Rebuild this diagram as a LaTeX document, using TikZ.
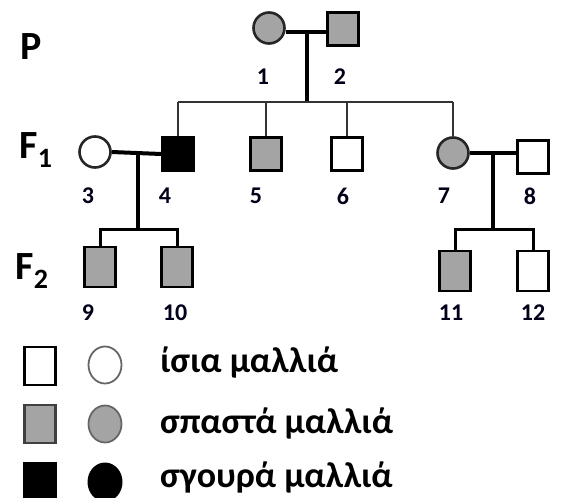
\documentclass[tikz,border=0pt]{standalone}
\usepackage{fontspec}
\usetikzlibrary{shapes.geometric}
\setmainfont{Carlito}
\definecolor{aff}{HTML}{A4A4A4}
\begin{document}
\begin{tikzpicture}[x=1pt,y=-1pt,
  ind/.style={draw=black, line width=2.6pt, inner sep=0pt},
  sqw/.style={ind, rectangle, fill=white, minimum width=31pt, minimum height=33pt},
  sqg/.style={sqw, fill=aff},
  sqb/.style={sqw, fill=black},
  crw/.style={ind, circle, fill=white, draw=black!85, minimum size=31pt},
  crg/.style={crw, fill=aff},
  crb/.style={crw, fill=black},
  num/.style={font=\bfseries\fontsize{24}{28}\selectfont, text=black!90!blue},
  gen/.style={font=\bfseries\fontsize{40}{44}\selectfont},
  leg/.style={font=\bfseries\fontsize{36}{40}\selectfont, anchor=west, inner sep=0pt},
  marr/.style={line width=4pt},
  sib/.style={line width=2.6pt, draw=black!80},
  drop/.style={line width=1.8pt, draw=black!80}
]
\useasboundingbox[fill=white] (0,0) rectangle (561,497);

% generation labels
\node[gen] (P) at (31,47) {P};
\node[gen] (F1) at (36,150) {F\textsubscript{1}};
\node[gen] (F2) at (32,271) {F\textsubscript{2}};

% P generation
\node[crg] (i1) at (269,28) {};
\node[sqg] (i2) at (343,29) {};
\coordinate (e1) at (286,32);
\coordinate (w2) at (327,32);
\draw[marr] (e1) -- (w2);
\coordinate (m12) at (307,32);
\coordinate (s12) at (307,102);
\draw[marr] (m12) -- (s12);

% F1
\node[crw] (i3) at (95,152) {};
\node[sqb] (i4) at (178,154) {};
\node[sqg] (i5) at (266,154) {};
\node[sqw] (i6) at (347,154) {};
\node[crg] (i7) at (453,153) {};
\node[sqw] (i8) at (533,157) {};

\coordinate (a4) at (178,102);
\coordinate (a7) at (453,102);
\draw[sib] (a4) -- (a7);
\draw[drop] (a4) -- (i4.north);
\draw[drop] (266,102) -- (i5.north);
\draw[drop] (347,102) -- (i6.north);
\draw[drop] (a7) -- (i7.north);

\draw[marr] (i3.east) -- (i4.west);
\coordinate (m34) at (138,152);
\coordinate (s34) at (138,230);
\draw[marr] (m34) -- (s34);

\draw[marr] (i7.east) -- (i8.west |- i7.east);
\coordinate (m78) at (493,153);
\coordinate (s78) at (493,230);
\draw[marr] (m78) -- (s78);

% F2
\node[sqg, minimum height=40pt] (i9) at (100,267) {};
\node[sqg, minimum height=40pt] (i10) at (177,267) {};
\node[sqg, minimum height=40pt] (i11) at (455,271) {};
\node[sqw, minimum height=40pt] (i12) at (533,271) {};

\coordinate (b9) at (100,229);
\coordinate (b10) at (177,229);
\draw[line width=3pt] (i9.north) -- (b9) -- (b10) -- (i10.north);
\coordinate (b11) at (455,229);
\coordinate (b12) at (533,229);
\draw[line width=3pt] (i11.north) -- (b11) -- (b12) -- (i12.north);

% numbers
\node[num] (n1) at (263,77) {1};
\node[num] (n2) at (340,77) {2};
\node[num] (n3) at (88,196) {3};
\node[num] (n4) at (165,196) {4};
\node[num] (n5) at (256,196) {5};
\node[num] (n6) at (343,196) {6};
\node[num] (n7) at (444,196) {7};
\node[num] (n8) at (530,196) {8};
\node[num] (n9) at (88,313) {9};
\node[num] (n10) at (175,313) {10};
\node[num] (n11) at (451,313) {11};
\node[num] (n12) at (533,313) {12};

% legend
\node[sqw, minimum height=38pt] (l1) at (40,366) {};
\node[draw=black!60, fill=white, line width=1.8pt, inner sep=0pt, minimum width=33pt, minimum height=37pt, ellipse] (k1) at (105,365) {};
\node[sqg, draw=black!75, minimum height=38pt] (l2) at (40,424) {};
\node[draw=black!60, fill=aff, line width=1.8pt, inner sep=0pt, minimum width=33pt, minimum height=37pt, ellipse] (k2) at (105,424) {};
\node[sqb, minimum height=38pt] (l3) at (40,482) {};
\node[fill=black, inner sep=0pt, minimum width=35pt, minimum height=39pt, ellipse] (k3) at (105,482) {};
\node[leg] (t1) at (160,362) {ίσια μαλλιά};
\node[leg] (t2) at (160,423) {σπαστά μαλλιά};
\node[leg] (t3) at (160,477) {σγουρά μαλλιά};
\end{tikzpicture}
\end{document}
